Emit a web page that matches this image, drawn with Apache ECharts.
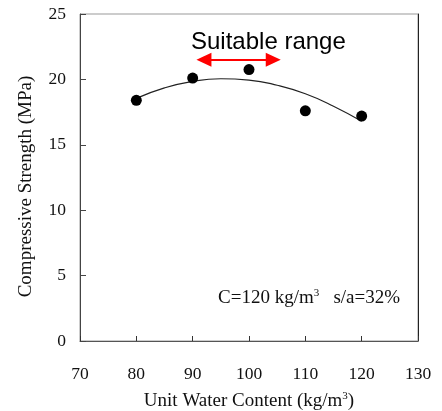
<!DOCTYPE html>
<html><head><meta charset="utf-8">
<script src="https://cdn.jsdelivr.net/npm/echarts@6/dist/echarts.min.js"></script>
<style>html,body{margin:0;padding:0;background:#fff}#c{width:442px;height:411px}</style>
</head><body><div id="c"></div>
<script>
const waterContent = [80, 90, 100, 110, 120];
const strength = [18.4, 20.1, 20.75, 17.6, 17.2];
const curveX = [80, 85, 90, 95, 100, 105, 110, 115, 120];
const curveY = [18.55, 19.35, 19.85, 20.05, 19.95, 19.55, 18.9, 17.95, 16.8];
const xTicks = [70, 80, 90, 100, 110, 120, 130];
const yTicks = [0, 5, 10, 15, 20, 25];
const rangeX = [92.0, 104.3];
const rangeY = 21.5;

const serif = '"Liberation Serif", "Times New Roman", serif';
const chart = echarts.init(document.getElementById('c'));
chart.setOption({
  animation: false,
  grid: {left: 80, right: 24, top: 14, bottom: 70, show: true, borderColor: '#999', borderWidth: 1,
    outerBoundsMode: 'none', containLabel: false},
  xAxis: [{
    type: 'value', min: xTicks[0], max: xTicks[xTicks.length-1], interval: 10,
    axisLine: {lineStyle: {color: '#555', width: 1}},
    axisTick: {inside: true, length: 5, lineStyle: {color: '#333'}},
    splitLine: {show: false},
    axisLabel: {color: '#111', fontFamily: serif, fontSize: 17.5, margin: 24},
    name: 'Unit Water Content (kg/m{s|3})',
    nameLocation: 'middle', nameGap: 50,
    nameTextStyle: {color: '#111', fontFamily: serif, fontSize: 19,
      rich: {s: {fontSize: 11, verticalAlign: 'top', fontFamily: serif, color: '#111', padding: [0,0,9,0]}}}
  }],
  yAxis: [{
    type: 'value', min: 0, max: 25, interval: 5,
    axisLine: {show: true, lineStyle: {color: '#444', width: 1}},
    axisTick: {show: true, inside: true, length: 6, lineStyle: {color: '#444'}},
    splitLine: {show: false},
    axisLabel: {color: '#111', fontFamily: serif, fontSize: 17.5, margin: 14},
    name: 'Compressive Strength (MPa)', nameLocation: 'middle', nameGap: 44,
    nameTextStyle: {color: '#111', fontFamily: serif, fontSize: 19, padding: [0, 18, 0, 0]}
  }, {
    type: 'value', position: 'right', min: 0, max: 25, interval: 5,
    axisLine: {show: true, lineStyle: {color: '#222'}}, axisTick: {show: false},
    axisLabel: {show: false}, splitLine: {show: false}
  }],
  series: [{
    type: 'line', data: curveX.map((x, i) => [x, curveY[i]]),
    smooth: true, symbol: 'none', lineStyle: {color: '#222', width: 1.2}, z: 2,
    markLine: {
      silent: true, symbol: ['triangle', 'triangle'], symbolSize: [14, 15],
      label: {show: false},
      lineStyle: {color: '#ff0000', width: 2, type: 'solid'},
      data: [[{coord: [rangeX[0], rangeY]}, {coord: [rangeX[1], rangeY]}]]
    }
  }, {
    type: 'scatter', data: waterContent.map((x, i) => [x, strength[i]]),
    symbolSize: 11, itemStyle: {color: '#000', opacity: 1}, z: 3
  }],
  graphic: [{
    type: 'text', left: 191, top: 30,
    style: {text: 'Suitable range', font: '24px "Liberation Sans", Arial, sans-serif', fill: '#000'}
  }, {
    type: 'text', left: 218, top: 288,
    style: {text: 'C=120 kg/m{s|3}   s/a=32%', font: '19px ' + serif, fill: '#111',
      rich: {s: {fontSize: 11, verticalAlign: 'top', fontFamily: serif, fill: '#111', padding: [0,0,9,0]}}}
  }]
});
</script></body></html>
